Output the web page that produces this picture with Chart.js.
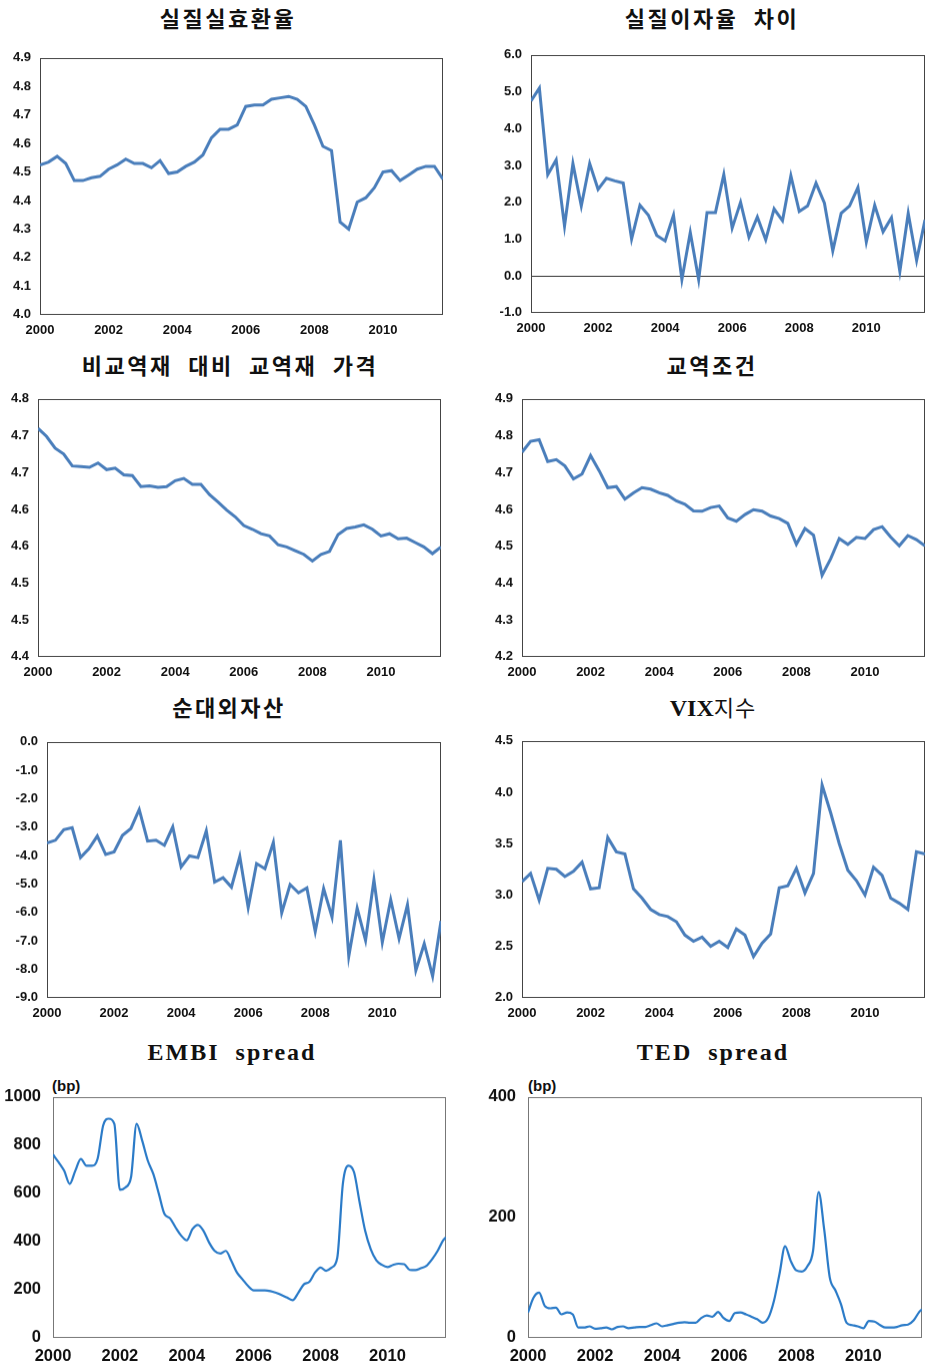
<!DOCTYPE html>
<html>
<head>
<meta charset="UTF-8">
<title>환율 결정요인</title>
<script src="https://cdn.jsdelivr.net/npm/chart.js"></script>
<style>
    body { margin: 0; background: #fff; width: 926px; height: 1367px; position: relative; overflow: hidden; }
    .box { position: absolute; }
    .ttl { position: absolute; width: 420px; text-align: center; line-height: 30px; height: 30px; white-space: pre;
           font-family: "Noto Sans CJK KR", sans-serif; font-weight: bold; font-size: 22px; letter-spacing: 2.5px; word-spacing: 8px; color: #111; }
    .ser { font-family: "Liberation Serif", serif; font-weight: bold; font-size: 24px; letter-spacing: 2px; word-spacing: 0; }
    .bp { position: absolute; font-family: "Liberation Sans", Arial, sans-serif; font-weight: bold; font-size: 15px; color: #111; }
</style>
</head>
<body>

<div class="ttl" style="left:18px;top:2px;">실질실효환율</div>
<div class="ttl" style="left:502px;top:2px;">실질이자율 차이</div>
<div class="ttl" style="left:20px;top:349px;">비교역재 대비 교역재 가격</div>
<div class="ttl" style="left:502px;top:349px;">교역조건</div>
<div class="ttl" style="left:19px;top:691px;">순대외자산</div>
<div class="ttl" style="left:503px;top:691px;"><span class="ser" style="letter-spacing:0">VIX</span><span style="font-weight:normal;letter-spacing:1px">지수</span></div>
<div class="ttl" style="left:22px;top:1035px;"><span class="ser">EMBI  spread</span></div>
<div class="ttl" style="left:503px;top:1035px;"><span class="ser">TED  spread</span></div>
<div class="bp" style="left:52px;top:1077px;">(bp)</div>
<div class="bp" style="left:528px;top:1077px;">(bp)</div>

<div class="box" id="b1"><canvas id="c1"></canvas></div>
<div class="box" id="b2"><canvas id="c2"></canvas></div>
<div class="box" id="b3"><canvas id="c3"></canvas></div>
<div class="box" id="b4"><canvas id="c4"></canvas></div>
<div class="box" id="b5"><canvas id="c5"></canvas></div>
<div class="box" id="b6"><canvas id="c6"></canvas></div>
<div class="box" id="b7"><canvas id="c7"></canvas></div>
<div class="box" id="b8"><canvas id="c8"></canvas></div>

<script>
    // 분기 (2000Q1 ~ 2011Q4)
    var quarterDates = [];
    for (var i = 0; i < 48; i++) quarterDates.push(2000 + i / 4);
    // 격월 (스프레드)
    var spreadDates = [];
    for (var j = 0; j < 71; j++) spreadDates.push(2000 + j / 6);
    spreadDates.push(2011.75);

    var xTickYears = [2000, 2002, 2004, 2006, 2008, 2010];

    var reerData = [4.525, 4.535, 4.555, 4.53, 4.47, 4.47, 4.48, 4.485, 4.51, 4.525,
        4.545, 4.53, 4.53, 4.515, 4.54, 4.495, 4.5, 4.52, 4.535, 4.56,
        4.62, 4.65, 4.65, 4.665, 4.73, 4.735, 4.735, 4.755, 4.76, 4.765,
        4.755, 4.73, 4.665, 4.59, 4.575, 4.325, 4.3, 4.395, 4.41, 4.445,
        4.5, 4.505, 4.47, 4.49, 4.51, 4.52, 4.52, 4.475];

    var rateDiffData = [4.75, 5.1, 2.75, 3.15, 1.35, 3.05, 1.9, 3.05, 2.35, 2.65,
        2.58, 2.52, 1.0, 1.92, 1.65, 1.1, 0.95, 1.65, -0.1, 1.18,
        -0.1, 1.72, 1.72, 2.75, 1.3, 2.0, 1.05, 1.6, 0.98, 1.82,
        1.5, 2.72, 1.75, 1.9, 2.52, 1.98, 0.68, 1.7, 1.9, 2.4,
        0.92, 1.92, 1.2, 1.58, 0.12, 1.7, 0.42, 1.52];

    var tradableData = [4.71, 4.699, 4.683, 4.675, 4.659, 4.658, 4.657, 4.663, 4.654, 4.656,
        4.647, 4.646, 4.631, 4.632, 4.63, 4.631, 4.639, 4.642, 4.634, 4.634,
        4.62, 4.61, 4.599, 4.59, 4.578, 4.573, 4.567, 4.564, 4.552, 4.549,
        4.544, 4.539, 4.53, 4.539, 4.543, 4.566, 4.574, 4.576, 4.579, 4.573,
        4.564, 4.567, 4.56, 4.561, 4.555, 4.549, 4.54, 4.549];
    var tradableTickLabels = ['4.4', '4.5', '4.5', '4.6', '4.6', '4.7', '4.7', '4.8'];

    var totData = [4.755, 4.785, 4.789, 4.73, 4.735, 4.718, 4.683, 4.696, 4.746, 4.705,
        4.659, 4.662, 4.628, 4.645, 4.659, 4.655, 4.645, 4.638, 4.623, 4.614,
        4.596, 4.595, 4.605, 4.609, 4.577, 4.568, 4.586, 4.599, 4.595, 4.582,
        4.575, 4.562, 4.505, 4.548, 4.53, 4.421, 4.466, 4.521, 4.505, 4.524,
        4.521, 4.545, 4.553, 4.525, 4.501, 4.529, 4.518, 4.501];

    var nfaData = [-3.56, -3.46, -3.09, -3.02, -4.07, -3.76, -3.31, -3.96, -3.87, -3.29,
        -3.05, -2.38, -3.49, -3.46, -3.64, -2.99, -4.4, -4.01, -4.07, -3.13,
        -4.93, -4.78, -5.11, -4.03, -5.83, -4.28, -4.46, -3.54, -6.01, -5.02,
        -5.31, -5.14, -6.67, -5.16, -6.16, -3.46, -7.54, -5.85, -6.98, -4.85,
        -7.05, -5.55, -6.92, -5.73, -8.04, -7.1, -8.24, -6.3];

    var vixData = [3.13, 3.21, 2.95, 3.26, 3.25, 3.18, 3.23, 3.32, 3.06, 3.07,
        3.56, 3.42, 3.4, 3.06, 2.97, 2.86, 2.81, 2.79, 2.74, 2.61,
        2.55, 2.59, 2.5, 2.55, 2.49, 2.67, 2.61, 2.4, 2.53, 2.62,
        3.07, 3.09, 3.26, 3.02, 3.21, 4.07, 3.8, 3.5, 3.24, 3.14,
        3.0, 3.27, 3.19, 2.97, 2.92, 2.86, 3.42, 3.4];

    var embiData = [761, 729, 694, 639, 694, 743,
        715, 715, 743, 882, 910, 889,
        615, 625, 667, 889, 819, 736,
        680, 597, 514, 496, 458, 424,
        405, 451, 469, 444, 396, 361,
        350, 361, 319, 271, 243, 215,
        197, 197, 197, 194, 187, 178,
        167, 156, 187, 222, 233, 271,
        292, 278, 292, 333, 640, 715,
        688, 563, 444, 368, 322, 303,
        294, 303, 308, 306, 282, 281,
        289, 299, 326, 361, 405, 417];

    var tedData = [42, 67, 75, 53, 49, 50,
        39, 42, 39, 17, 17, 19,
        15, 16, 17, 14, 18, 19,
        16, 17, 18, 18, 21, 24,
        19, 21, 23, 25, 26, 25,
        25, 33, 37, 35, 43, 33,
        28, 41, 42, 39, 35, 31,
        25, 33, 61, 106, 152, 128,
        112, 110, 119, 144, 242, 180,
        100, 79, 56, 25, 21, 19,
        16, 28, 27, 21, 17, 17,
        18, 21, 22, 29, 43, 47];

    // 차트 테두리
    var framePlugin = {
        id: 'frame',
        beforeDatasetsDraw: function (chart, args, opts) {
            var a = chart.chartArea, c = chart.ctx;
            c.save();
            c.strokeStyle = opts.color || '#444';
            c.lineWidth = 1;
            c.strokeRect(Math.round(a.left) + 0.5, Math.round(a.top) + 0.5,
                Math.round(a.right - a.left) - 1, Math.round(a.bottom - a.top) - 1);
            c.restore();
        }
    };

    function toPoints(dates, values) {
        var pts = [];
        for (var k = 0; k < values.length; k++) pts.push({ x: dates[k], y: values[k] });
        return pts;
    }

    function makeChart(n, o) {
        var big = !!o.smooth;
        var fontSize = big ? 16.5 : 13;
        var yW = o.yW, xH = big ? 30 : 26, padRight = 2;
        var plotW = o.rect[2] - o.rect[0], plotH = o.rect[3] - o.rect[1];
        var box = document.getElementById('b' + n);
        box.style.left = (o.rect[0] - yW) + 'px';
        box.style.top = (o.rect[1] - 12) + 'px';
        box.style.width = (yW + plotW + padRight) + 'px';
        box.style.height = (12 + plotH + xH) + 'px';

        var tickFont = { family: '"Liberation Sans", Arial, sans-serif', weight: 'bold', size: fontSize };

        var ctx = document.getElementById('c' + n).getContext('2d');
        var chart = new Chart(ctx, {
            type: 'line',
            data: {
                datasets: [{
                    data: toPoints(o.dates, o.values),
                    borderColor: big ? '#2b7bc8' : '#4a7ebb',
                    borderWidth: big ? 2.2 : 3,
                    pointRadius: 0,
                    tension: big ? 0.4 : 0,
                    cubicInterpolationMode: big ? 'monotone' : 'default',
                    fill: false
                }]
            },
            options: {
                responsive: true,
                maintainAspectRatio: false,
                animation: false,
                layout: { padding: { top: 0, right: padRight, left: 0, bottom: 0 } },
                plugins: {
                    legend: { display: false },
                    tooltip: { enabled: false },
                    frame: { color: big ? '#777' : '#444' }
                },
                scales: {
                    x: {
                        type: 'linear',
                        min: 2000,
                        max: 2011.75,
                        grid: { display: false, drawTicks: false },
                        border: { display: false },
                        afterBuildTicks: function (axis) {
                            axis.ticks = xTickYears.map(function (v) { return { value: v }; });
                        },
                        afterFit: function (axis) { axis.height = xH; },
                        ticks: {
                            font: tickFont, color: '#111', padding: big ? 9 : 8,
                            maxRotation: 0, autoSkip: false,
                            callback: function (v) { return String(v); }
                        }
                    },
                    y: {
                        min: o.min,
                        max: o.max,
                        grid: {
                            display: !!o.zeroLine, drawTicks: false, lineWidth: 1,
                            color: function (c) { return c.tick && c.tick.value === 0 ? '#333' : 'rgba(0,0,0,0)'; }
                        },
                        border: { display: false },
                        afterFit: function (axis) { axis.width = yW; },
                        ticks: {
                            stepSize: o.step, font: tickFont, color: '#111', padding: big ? 12 : 9,
                            autoSkip: false,
                            callback: o.labels || function (v) { return big ? String(v) : v.toFixed(1); }
                        }
                    }
                }
            },
            plugins: [framePlugin]
        });

        // 그림 영역을 원본 위치에 맞춤
        for (var t = 0; t < 2; t++) {
            var a = chart.chartArea;
            var rightM = chart.width - a.right, bottomM = chart.height - a.bottom;
            box.style.left = (o.rect[0] - a.left) + 'px';
            box.style.top = (o.rect[1] - a.top) + 'px';
            box.style.width = (a.left + plotW + rightM) + 'px';
            box.style.height = (a.top + plotH + bottomM) + 'px';
            chart.resize();
        }
        return chart;
    }

    makeChart(1, { rect: [40, 58, 443, 314], yW: 40, dates: quarterDates, values: reerData, min: 4.0, max: 4.9, step: 0.1 });
    makeChart(2, { rect: [531, 55, 925, 312], yW: 40, dates: quarterDates, values: rateDiffData, min: -1, max: 6, step: 1, zeroLine: true });
    makeChart(3, { rect: [38, 399, 441, 656], yW: 38, dates: quarterDates, values: tradableData, min: 4.4, max: 4.75, step: 0.05,
        labels: function (v, idx) { return tradableTickLabels[idx]; } });
    makeChart(4, { rect: [522, 399, 925, 656], yW: 40, dates: quarterDates, values: totData, min: 4.2, max: 4.9, step: 0.1 });
    makeChart(5, { rect: [47, 742, 441, 997], yW: 46, dates: quarterDates, values: nfaData, min: -9, max: 0, step: 1 });
    makeChart(6, { rect: [522, 741, 925, 997], yW: 40, dates: quarterDates, values: vixData, min: 2, max: 4.5, step: 0.5 });
    makeChart(7, { rect: [53, 1097, 446, 1337], yW: 52, dates: spreadDates, values: embiData, min: 0, max: 1000, step: 200, smooth: true });
    makeChart(8, { rect: [528, 1097, 922, 1337], yW: 56, dates: spreadDates, values: tedData, min: 0, max: 400, step: 200, smooth: true });
</script>
</body>
</html>
